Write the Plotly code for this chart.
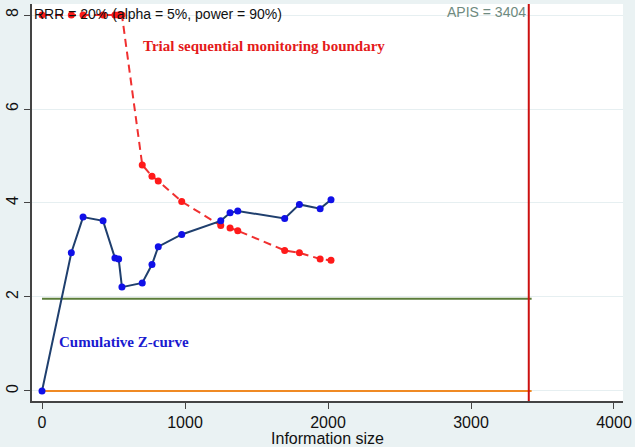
import plotly.graph_objects as go

# Information size (x) of each cumulative analysis
info_size = [0, 205, 287, 427, 510, 536, 559, 701, 769, 813, 977, 1250, 1315, 1369, 1697, 1800, 1945, 2021]
# Cumulative Z-curve values
z_curve = [0, 2.94, 3.70, 3.62, 2.83, 2.81, 2.21, 2.30, 2.69, 3.07, 3.33, 3.62, 3.79, 3.83, 3.67, 3.97, 3.88, 4.07]
# Trial sequential monitoring boundary
boundary = [8, 8, 8, 8, 8, 8, 8, 4.81, 4.57, 4.47, 4.03, 3.52, 3.47, 3.41, 2.99, 2.94, 2.81, 2.78]

conventional_z = 1.96
apis = 3404
line_end = 3424

x_ticks = [0, 1000, 2000, 3000, 4000]
y_ticks = [0, 2, 4, 6, 8]

fig = go.Figure()

# conventional boundary and zero line
fig.add_trace(go.Scatter(x=[0, line_end], y=[conventional_z, conventional_z], mode="lines",
                         line=dict(color="#5b7d3a", width=2), showlegend=False, hoverinfo="skip"))
fig.add_trace(go.Scatter(x=[0, line_end], y=[0, 0], mode="lines",
                         line=dict(color="#f08a24", width=2), showlegend=False, hoverinfo="skip"))

# monitoring boundary
fig.add_trace(go.Scatter(x=info_size, y=boundary, mode="lines+markers",
                         line=dict(color="#f03030", width=2, dash="8px,5px"),
                         marker=dict(color="#ff1a1a", size=7), showlegend=False))

# Z-curve
fig.add_trace(go.Scatter(x=info_size, y=z_curve, mode="lines+markers",
                         line=dict(color="#1f3f6e", width=2),
                         marker=dict(color="#1010e8", size=7), showlegend=False))

fig.add_shape(type="line", xref="x", yref="paper", x0=apis, x1=apis, y0=0, y1=1,
              line=dict(color="#cc1010", width=2))

fig.add_annotation(x=apis, y=1, xref="x", yref="paper", text="APIS = 3404",
                   showarrow=False, xanchor="right", yanchor="top", xshift=-1, yshift=2,
                   font=dict(family="Liberation Sans, Arial", size=14, color="#6f8a80"))
fig.add_annotation(x=0, y=1, xref="paper", yref="paper", text="RRR = 20% (alpha = 5%, power = 90%)",
                   showarrow=False, xanchor="left", yanchor="top", xshift=0, yshift=0,
                   font=dict(family="Liberation Sans, Arial", size=14, color="#111111"))
fig.add_annotation(x=695, y=7.33, xref="x", yref="y", text="<b>Trial sequential monitoring boundary</b>",
                   showarrow=False, xanchor="left", yanchor="middle",
                   font=dict(family="Liberation Serif, Times New Roman", size=15, color="#e41a1a"))
fig.add_annotation(x=105, y=1.05, xref="x", yref="y", text="<b>Cumulative Z-curve</b>",
                   showarrow=False, xanchor="left", yanchor="middle",
                   font=dict(family="Liberation Serif, Times New Roman", size=15, color="#1a1ad0"))

fig.update_layout(
    width=635, height=447,
    margin=dict(l=32, r=12, t=4, b=46),
    paper_bgcolor="#eaf2f3", plot_bgcolor="white",
    font=dict(family="Liberation Sans, Arial", size=16, color="#111111"),
    showlegend=False,
)
fig.update_xaxes(range=[-70, 4063], tickvals=x_ticks, ticktext=[str(v) for v in x_ticks],
                 showgrid=False, zeroline=False, showline=True, linecolor="#444444", linewidth=1.5,
                 ticks="outside", ticklen=6, tickcolor="#444444",
                 title=dict(text="Information size", standoff=2, font=dict(size=16)))
fig.update_yaxes(range=[-0.213, 8.234], tickvals=y_ticks, ticktext=[str(v) for v in y_ticks],
                 tickangle=-90, showgrid=True, gridcolor="#e6eff1", gridwidth=1, zeroline=False,
                 showline=True, linecolor="#444444", linewidth=1.5,
                 ticks="outside", ticklen=6, tickcolor="#444444")

fig.write_html("out.html", config={"displayModeBar": False},
               post_script="document.body.style.margin='0';document.body.style.background='#eaf2f3';")
